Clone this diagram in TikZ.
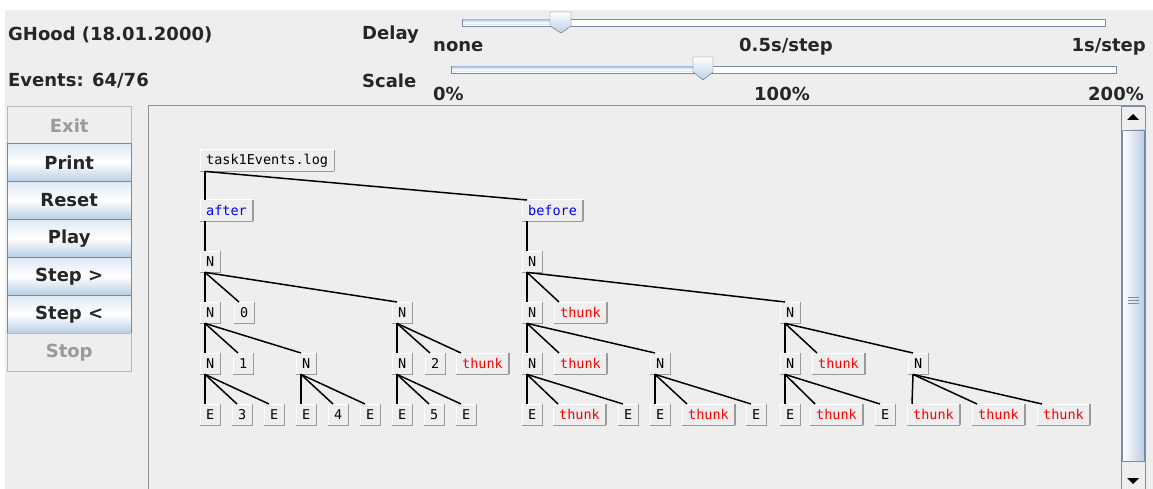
\documentclass[tikz,border=0pt]{standalone}
\usepackage{fontspec}
\usepackage{xcolor}
\usepackage{tikz}
\newfontfamily\uifont{DejaVu Sans}
\newfontfamily\treefont{DejaVu Sans Mono}
\definecolor{panelbg}{HTML}{EEEEEE}
\definecolor{btnedge}{HTML}{7A8A99}
\definecolor{btntop}{HTML}{DDE8F3}
\definecolor{btnbot}{HTML}{B8CFE5}
\definecolor{offtext}{HTML}{9A9A9A}
\definecolor{offedge}{HTML}{B8B8B8}
\definecolor{shadow}{HTML}{9A9A9A}
\definecolor{slideedge}{HTML}{7A8AA9}
\definecolor{slidefill}{HTML}{BBCFE8}
\definecolor{paneledge}{HTML}{8E8F8F}

\tikzset{
  uilabel/.style={font=\uifont\bfseries\fontsize{18}{21}\selectfont, inner sep=0pt, text=black!85},
  btnbase/.style={uilabel, minimum width=124pt, minimum height=38pt, anchor=north west},
  button/.style={btnbase, draw=btnedge, top color=btntop, bottom color=btnbot, middle color=white},
  offbutton/.style={btnbase, draw=offedge, fill=panelbg, text=offtext},
  tnode/.style={anchor=north west, inner xsep=6pt, inner ysep=0pt, minimum height=21pt,
    font=\treefont\fontsize{13.5}{16}\selectfont, fill=panelbg,
    append after command={\pgfextra{\let\bvnode\tikzlastnode}
      (\bvnode.south west) edge[white, line width=1pt] (\bvnode.north west)
      (\bvnode.north west) edge[white, line width=1pt] (\bvnode.north east)
      (\bvnode.south west) edge[shadow, line width=1.5pt] (\bvnode.south east)
      (\bvnode.south east) edge[shadow, line width=1.5pt] (\bvnode.north east)}},
  branch/.style={tnode, text=blue},
  lazy/.style={tnode, text=red},
  tline/.style={black, line width=1.5pt},
}

\begin{document}
\begin{tikzpicture}[x=1pt, y=-1pt]
  \useasboundingbox (0,0) rectangle (1153,489);
  \fill[white] (0,0) rectangle (1153,489);
  \fill[panelbg] (5,10) rectangle (1153,489);

  % header texts
  \node[uilabel, anchor=west] (title) at (8,35) {GHood (18.01.2000)};
  \node[uilabel, anchor=west] (events) at (8,81) {Events: 64/76};
  \node[uilabel, anchor=west] (delay) at (362,35) {Delay};
  \node[uilabel, anchor=west] (scale) at (362,81) {Scale};

  % delay slider
  \draw[slideedge, fill=white] (462,19) rectangle (1105,26);
  \shade[top color=slidefill, bottom color=slidefill!70!white, middle color=white] (463,20) rectangle (556,25);
  \draw[black!60, top color=white, bottom color=slidefill] (550,12) -- (571,12) -- (571,26) -- (561,33) -- (550,26) -- cycle;
  \node[uilabel, anchor=west] (dnone) at (433,47) {none};
  \node[uilabel] (dhalf) at (786,47) {0.5s/step};
  \node[uilabel, anchor=east] (dfull) at (1146,47) {1s/step};

  % scale slider
  \draw[slideedge, fill=white] (451,66) rectangle (1116,73);
  \shade[top color=slidefill, bottom color=slidefill!70!white, middle color=white] (452,67) rectangle (698,72);
  \draw[black!60, top color=white, bottom color=slidefill] (693,57) -- (713,57) -- (713,72) -- (703,80) -- (693,72) -- cycle;
  \node[uilabel, anchor=west] (szero) at (433,94) {0\%};
  \node[uilabel] (shalf) at (782,94) {100\%};
  \node[uilabel, anchor=east] (sfull) at (1144,94) {200\%};

  % buttons
  \node[offbutton] (exit) at (7,106) {Exit};
  \node[button] (print) at (7,143) {Print};
  \node[button] (reset) at (7,181) {Reset};
  \node[button] (play) at (7,219) {Play};
  \node[button] (stepf) at (7,257) {Step >};
  \node[button] (stepb) at (7,295) {Step <};
  \node[offbutton] (stop) at (7,333) {Stop};

  % tree panel and scrollbar
  \draw[paneledge, line width=1pt] (148,489) -- (148,106) -- (1145,106);
  \draw[slideedge, fill=panelbg] (1121,106) rectangle (1145,489);
  \fill[black] (1127,120) -- (1139,120) -- (1133,114) -- cycle;
  \draw[slideedge, left color=white, right color=slidefill] (1122,130) rectangle (1144,461);
  \foreach \gy in {297,300,303}
    \draw[slideedge] (1128,\gy) -- (1139,\gy);
  \fill[black] (1127,478) -- (1139,478) -- (1133,484) -- cycle;

  % tree nodes
  \node[tnode] (root) at (200,150) {task1Events.log};
  \node[branch] (after) at (200,200) {after};
  \node[branch] (before) at (522,200) {before};

  \node[tnode] (na) at (200,251) {N};
  \node[tnode] (nb) at (522,251) {N};

  \node[tnode] (naa) at (200,302) {N};
  \node[tnode] (zero) at (234,302) {0};
  \node[tnode] (nab) at (392,302) {N};
  \node[tnode] (nba) at (522,302) {N};
  \node[lazy] (tba) at (554,302) {thunk};
  \node[tnode] (nbb) at (780,302) {N};

  \node[tnode] (naaa) at (200,353) {N};
  \node[tnode] (one) at (233,353) {1};
  \node[tnode] (naab) at (296,353) {N};
  \node[tnode] (naba) at (392,353) {N};
  \node[tnode] (two) at (425,353) {2};
  \node[lazy] (tab) at (456,353) {thunk};
  \node[tnode] (nbaa) at (522,353) {N};
  \node[lazy] (tbaa) at (554,353) {thunk};
  \node[tnode] (nbab) at (650,353) {N};
  \node[tnode] (nbba) at (780,353) {N};
  \node[lazy] (tbba) at (812,353) {thunk};
  \node[tnode] (nbbb) at (908,353) {N};

  \node[tnode] (e1) at (200,404) {E};
  \node[tnode] (three) at (232,404) {3};
  \node[tnode] (e2) at (264,404) {E};
  \node[tnode] (e3) at (296,404) {E};
  \node[tnode] (four) at (328,404) {4};
  \node[tnode] (e4) at (360,404) {E};
  \node[tnode] (e5) at (392,404) {E};
  \node[tnode] (five) at (424,404) {5};
  \node[tnode] (e6) at (456,404) {E};
  \node[tnode] (e7) at (522,404) {E};
  \node[lazy] (t1) at (553,404) {thunk};
  \node[tnode] (e8) at (618,404) {E};
  \node[tnode] (e9) at (650,404) {E};
  \node[lazy] (t2) at (682,404) {thunk};
  \node[tnode] (e10) at (746,404) {E};
  \node[tnode] (e11) at (780,404) {E};
  \node[lazy] (t3) at (810,404) {thunk};
  \node[tnode] (e12) at (875,404) {E};
  \node[lazy] (t4) at (907,404) {thunk};
  \node[lazy] (t5) at (972,404) {thunk};
  \node[lazy] (t6) at (1037,404) {thunk};

  % tree edges
  \foreach \p/\c in {root/after, root/before, after/na, before/nb,
      na/naa, na/zero, na/nab, nb/nba, nb/tba, nb/nbb,
      naa/naaa, naa/one, naa/naab, nab/naba, nab/two, nab/tab,
      nba/nbaa, nba/tbaa, nba/nbab, nbb/nbba, nbb/tbba, nbb/nbbb,
      naaa/e1, naaa/three, naaa/e2, naab/e3, naab/four, naab/e4,
      naba/e5, naba/five, naba/e6, nbaa/e7, nbaa/t1, nbaa/e8,
      nbab/e9, nbab/t2, nbab/e10, nbba/e11, nbba/t3, nbba/e12,
      nbbb/t4, nbbb/t5, nbbb/t6}
    \draw[tline] ([xshift=5pt]\p.south west) -- ([xshift=5pt]\c.north west);
\end{tikzpicture}
\end{document}
